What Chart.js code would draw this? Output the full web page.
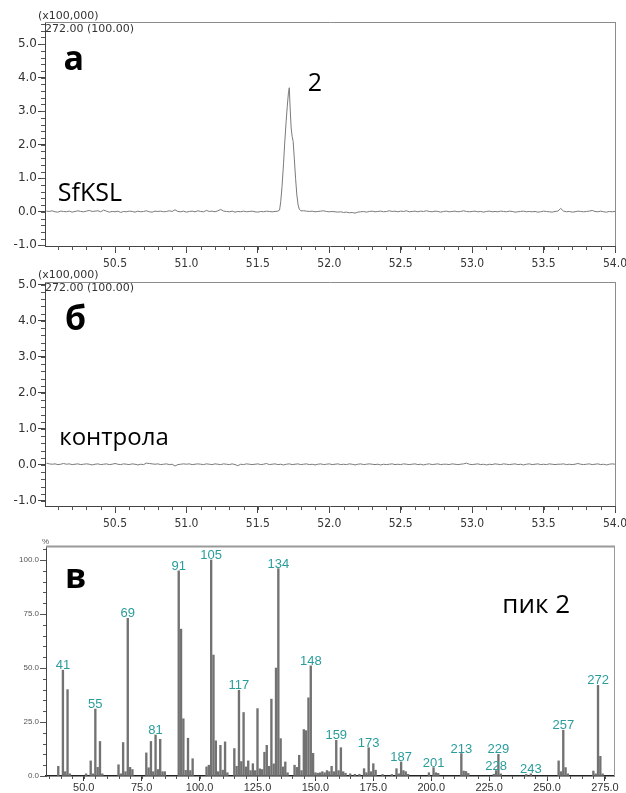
<!DOCTYPE html>
<html>
<head>
<meta charset="utf-8">
<script src="https://cdn.jsdelivr.net/npm/chart.js@4.4.1/dist/chart.umd.min.js"></script>
<style>
  body { margin: 0; background: #fff; width: 626px; height: 793px; position: relative; overflow: hidden; }
  canvas { position: absolute; left: 0; }
</style>
</head>
<body>
<canvas id="chartA" width="626" height="272" style="top:0"></canvas>
<canvas id="chartB" width="626" height="270" style="top:262px"></canvas>
<canvas id="chartC" width="626" height="258" style="top:535px"></canvas>
<script>
// ---- а / б : ion trace m/z 272 (x100,000) ----
const rtStart = 50.02;   // first sample, min
const rtStep = 0.02;

// SfKSL trace, baseline read every 0.02 min
const baselineA = [
  0.02, 0.01, 0.03, 0.00, -0.01, 0.02, 0.01, 0.00, 0.02, -0.01,
  0.01, 0.03, 0.01, 0.00, 0.02, 0.04, 0.01, 0.02, 0.03, 0.00,
  0.05, 0.02, -0.01, 0.01, 0.00, 0.02, -0.02, 0.01, 0.00, 0.02,
  0.01, -0.01, 0.02, 0.00, 0.01, 0.03, 0.00, -0.01, 0.02, 0.01,
  0.02, 0.00, 0.01, 0.03, 0.01, 0.06, 0.01, 0.00, 0.02, -0.01,
  0.01, 0.02, 0.00, 0.03, 0.01, 0.00, 0.04, 0.01, 0.02, 0.00,
  0.03, 0.07, 0.02, 0.01, 0.00, 0.02, -0.01, 0.01, 0.00, 0.02,
  0.00, 0.01, 0.02, 0.00, -0.01, 0.01, 0.00, 0.02, 0.01, 0.00,
  0.01, 0.02, 0.02, 0.02, 0.02, 0.02, 0.02, 0.02, 0.02, 0.03,
  0.03, 0.02, 0.01, 0.02, 0.00, 0.01, 0.02, 0.03, 0.01, 0.00,
  0.01, 0.00, -0.01, 0.00, -0.02, -0.01, -0.03, -0.02, -0.04, -0.01,
  0.00, 0.01, -0.01, 0.01, 0.02, 0.00, 0.01, 0.02, 0.00, 0.01,
  0.03, 0.01, 0.02, 0.00, 0.02, 0.01, 0.03, 0.00, 0.01, 0.02,
  0.00, 0.02, 0.01, 0.03, 0.01, 0.00, 0.02, 0.01, -0.01, 0.01,
  0.02, 0.00, 0.01, 0.02, 0.00, 0.01, 0.03, 0.01, 0.00, 0.01,
  0.02, 0.00, 0.01, -0.01, 0.01, 0.02, 0.00, 0.01, 0.00, 0.02,
  0.01, 0.00, 0.02, 0.01, -0.01, 0.00, 0.01, 0.02, 0.00, 0.01,
  0.00, 0.01, -0.01, 0.00, 0.02, 0.01, 0.00, -0.01, 0.01, 0.02,
  0.10, 0.02, 0.00, 0.01, -0.01, 0.00, 0.02, 0.01, 0.00, 0.01,
  0.02, 0.04, 0.01, 0.00, 0.02, 0.00, -0.01, 0.01, 0.00, 0.01
];
// peak 2, read more densely
const peakTimesA = [51.62, 51.64, 51.652, 51.66, 51.669, 51.68, 51.688, 51.698, 51.706, 51.714, 51.72,
  51.726, 51.733, 51.74, 51.747, 51.755, 51.764, 51.773, 51.782, 51.79, 51.80];
const peakValuesA = [0.01, 0.02, 0.05, 0.30, 0.75, 1.45, 2.05, 2.70, 3.15, 3.55, 3.70,
  3.10, 2.50, 2.25, 2.10, 1.60, 1.00, 0.50, 0.20, 0.08, 0.03];

// control trace
const baselineB = [
  0.05, 0.03, 0.02, 0.03, 0.01, 0.02, 0.04, 0.02, 0.03, 0.01,
  0.02, 0.03, 0.01, 0.02, 0.03, 0.02, 0.00, 0.02, 0.03, 0.01,
  0.02, 0.03, 0.01, 0.02, 0.04, 0.02, 0.01, 0.03, 0.02, 0.01,
  0.03, 0.02, 0.00, 0.02, 0.01, 0.05, 0.04, 0.03, 0.02, 0.03,
  0.01, 0.02, 0.03, 0.01, 0.02, -0.03, 0.01, 0.02, 0.03, 0.02,
  0.03, 0.01, 0.02, 0.03, 0.02, 0.01, 0.03, 0.02, 0.01, 0.03,
  0.02, 0.01, 0.03, 0.02, 0.01, 0.03, 0.01, -0.02, 0.02, 0.01,
  0.03, 0.02, 0.01, 0.02, 0.03, 0.01, 0.02, 0.04, 0.01, 0.02,
  0.03, 0.01, 0.02, 0.00, 0.02, 0.03, 0.01, 0.02, 0.03, 0.01,
  0.02, 0.03, 0.01, 0.02, 0.00, 0.02, 0.03, 0.01, 0.02, 0.03,
  0.01, 0.02, 0.03, 0.01, 0.02, 0.01, 0.03, 0.02, 0.00, 0.02,
  0.03, 0.01, 0.02, 0.03, 0.02, 0.01, 0.02, 0.00, 0.02, 0.01,
  0.02, 0.03, 0.01, 0.02, 0.01, 0.03, 0.02, 0.01, 0.02, 0.03,
  0.01, 0.02, 0.00, 0.02, 0.03, 0.01, 0.02, 0.03, 0.01, 0.02,
  0.02, 0.01, 0.03, 0.02, 0.01, 0.02, 0.03, 0.05, 0.02, 0.01,
  0.02, 0.03, 0.01, 0.02, 0.00, 0.02, 0.01, 0.03, 0.02, 0.01,
  0.03, 0.02, 0.01, 0.02, 0.03, 0.01, 0.02, 0.00, 0.02, 0.03,
  0.01, 0.02, 0.03, 0.01, 0.02, 0.01, 0.03, 0.02, 0.01, 0.02,
  0.02, 0.03, 0.01, 0.02, 0.01, 0.02, 0.04, 0.02, 0.01, 0.02,
  0.03, 0.01, 0.02, 0.03, 0.01, 0.02, 0.00, 0.02, 0.03, 0.02
];

// ---- в : mass spectrum of peak 2 ----
const masses = [39, 41, 42, 43, 44, 51, 53, 54, 55, 56, 57, 58, 65, 66, 67, 68, 69, 70, 71,
  77, 78, 79, 80, 81, 82, 83, 84, 85, 91, 92, 93, 94, 95, 96, 97, 103, 104, 105, 106, 107,
  108, 109, 110, 111, 112, 115, 116, 117, 118, 119, 120, 121, 122, 123, 124, 125, 126, 127,
  128, 129, 130, 131, 132, 133, 134, 135, 136, 137, 138, 141, 142, 143, 144, 145, 146, 147,
  148, 149, 150, 151, 152, 153, 154, 155, 156, 157, 158, 159, 160, 161, 162, 163, 165, 167,
  169, 171, 172, 173, 174, 175, 176, 179, 183, 185, 186, 187, 188, 189, 190, 199, 201, 202,
  203, 213, 214, 215, 216, 227, 228, 229, 230, 241, 243, 255, 256, 257, 258, 259, 270, 271,
  272, 273, 274];
const intensity = [4.5, 49, 2, 40, 1, 1, 7, 1, 31, 4, 16, 1, 5.2, 1, 15.5, 2, 73, 4, 3,
  10.7, 3.8, 16, 2, 19, 3, 17, 2, 2, 95, 68, 26.5, 2.6, 17.5, 2.5, 8, 4.2, 5, 100, 56, 16.3,
  2, 14.2, 2.7, 15.8, 1.5, 12.7, 4.5, 39.7, 6.7, 29.4, 4.2, 7, 2.5, 5.7, 2.5, 31.2, 3.3, 3,
  11, 14.2, 4.5, 35.6, 5.6, 50, 96, 17.3, 4.2, 6.5, 1.5, 5, 4, 9.6, 2.5, 21.5, 21, 36.2,
  51, 10.5, 1.5, 1.3, 1.5, 2, 1.5, 2.5, 2, 4.5, 2, 16.5, 2.5, 13.1, 2, 1.3, 1, 0.8,
  0.8, 3.4, 1.5, 13.1, 2, 5.7, 2.7, 0.7, 0.7, 3.4, 1, 6.5, 2.5, 2, 0.8, 1.5, 3.9, 1.5,
  1.2, 10.4, 2.3, 2.1, 1.2, 0.8, 2.5, 10, 1, 0.7, 1, 7, 2, 21.2, 3.9, 1, 2.3, 1,
  42, 9.1, 1];
const labelledMasses = [41, 55, 69, 81, 91, 105, 117, 134, 148, 159, 173, 187, 201, 213, 228, 229, 243, 257, 272];

function buildTrace(baseline, peakT, peakV) {
  const pts = [];
  baseline.forEach((v, i) => {
    const t = +(rtStart + i * rtStep).toFixed(3);
    if (peakT.length && t >= peakT[0] && t <= peakT[peakT.length - 1]) return;
    pts.push({ x: t, y: v });
  });
  peakT.forEach((t, i) => pts.push({ x: t, y: peakV[i] }));
  return pts.sort((a, b) => a.x - b.x);
}

// outline of the plot box (top and right edges)
function framePlugin(color, topWidth, rightWidth) {
  return {
    id: 'frame',
    afterDraw(chart) {
      const { ctx, chartArea: a } = chart;
      ctx.save();
      ctx.strokeStyle = color;
      ctx.lineWidth = topWidth;
      ctx.beginPath();
      ctx.moveTo(a.left, a.top + 0.5);
      ctx.lineTo(a.right + 1, a.top + 0.5);
      ctx.stroke();
      ctx.lineWidth = rightWidth;
      ctx.beginPath();
      ctx.moveTo(a.right + 0.5, a.top);
      ctx.lineTo(a.right + 0.5, a.bottom);
      ctx.stroke();
      ctx.restore();
    }
  };
}

// small ticks between the labelled ones
function minorTicksPlugin(xStep, yStep, len, color) {
  return {
    id: 'minorTicks',
    afterDraw(chart) {
      const { ctx, chartArea: a, scales: { x, y } } = chart;
      ctx.save();
      ctx.strokeStyle = color;
      ctx.lineWidth = 1;
      ctx.beginPath();
      for (let i = Math.ceil(x.min / xStep - 1e-6); i * xStep <= x.max + 1e-6; i++) {
        const px = Math.round(x.getPixelForValue(i * xStep)) + 0.5;
        ctx.moveTo(px, a.bottom);
        ctx.lineTo(px, a.bottom + len);
      }
      for (let i = Math.ceil(y.min / yStep - 1e-6); i * yStep <= y.max + 1e-6; i++) {
        const py = Math.round(y.getPixelForValue(i * yStep)) + 0.5;
        ctx.moveTo(a.left, py);
        ctx.lineTo(a.left - len, py);
      }
      ctx.stroke();
      ctx.restore();
    }
  };
}

// free text: "at" in data units, "px" relative to the plot box corner
function textPlugin(items) {
  return {
    id: 'texts',
    afterDraw(chart) {
      const { ctx, chartArea: a, scales: { x, y } } = chart;
      ctx.save();
      items.forEach(it => {
        ctx.font = it.font;
        ctx.fillStyle = it.color || '#000';
        ctx.textAlign = 'left';
        ctx.textBaseline = 'alphabetic';
        const px = it.at ? x.getPixelForValue(it.at[0]) : a.left + it.px[0];
        const py = it.at ? y.getPixelForValue(it.at[1]) : a.top + it.px[1];
        ctx.fillText(it.text, px, py);
      });
      ctx.restore();
    }
  };
}

function peakLabelPlugin() {
  return {
    id: 'peakLabels',
    afterDatasetsDraw(chart) {
      const { ctx, scales: { x, y } } = chart;
      ctx.save();
      ctx.font = '13px "Liberation Sans", Arial, sans-serif';
      ctx.fillStyle = '#2a9c9c';
      ctx.textAlign = 'center';
      ctx.textBaseline = 'alphabetic';
      labelledMasses.forEach(m => {
        const v = intensity[masses.indexOf(m)];
        ctx.fillText(String(m), x.getPixelForValue(m), y.getPixelForValue(v) - 1);
      });
      ctx.restore();
    }
  };
}

const xTickFont = { family: '"DejaVu Sans Condensed", "DejaVu Sans"', size: 12 };
const yTickFont = { family: 'DejaVu Sans', size: 12 };
const headerFont = '11px "DejaVu Sans", sans-serif';

function chromChart(id, points, yMin, yMax, padTop, texts) {
  return new Chart(document.getElementById(id), {
    type: 'line',
    data: {
      datasets: [{
        data: points,
        borderColor: '#7a7a7a',
        borderWidth: 1,
        pointRadius: 0,
        tension: 0
      }]
    },
    options: {
      responsive: false,
      animation: false,
      layout: { padding: { top: padTop, right: 11, left: 0, bottom: 0 } },
      plugins: { legend: { display: false }, tooltip: { enabled: false } },
      scales: {
        x: {
          type: 'linear', min: 50.01, max: 54.0,
          afterFit: s => { s.height = 26; s.paddingLeft = 0; s.paddingRight = 0; },
          ticks: {
            stepSize: 0.5, includeBounds: false, autoSkip: false, maxRotation: 0,
            padding: 4, font: xTickFont, color: '#333',
            callback: v => v.toFixed(1)
          },
          grid: { drawOnChartArea: false, tickLength: 7, color: '#444' },
          border: { color: '#444' }
        },
        y: {
          min: yMin, max: yMax,
          afterFit: s => { s.width = 45; s.paddingTop = 0; s.paddingBottom = 0; },
          ticks: {
            stepSize: 1, includeBounds: false, padding: 1, font: yTickFont, color: '#333',
            callback: v => v.toFixed(1)
          },
          grid: { drawOnChartArea: false, tickLength: 7, color: '#444' },
          border: { color: '#444' }
        }
      }
    },
    plugins: [framePlugin('#8c8c8c', 1, 1), minorTicksPlugin(0.1, 0.2, 4, '#555'), textPlugin(texts)]
  });
}

chromChart('chartA', buildTrace(baselineA, peakTimesA, peakValuesA), -1.02, 5.66, 22, [
  { text: '(x100,000)', px: [-7, -3], font: headerFont, color: '#333' },
  { text: '272.00 (100.00)', px: [0, 10], font: headerFont, color: '#333' },
  { text: 'а', at: [50.14, 4.22], font: 'bold 34px "Open Sans", sans-serif' },
  { text: '2', at: [51.85, 3.59], font: '25px "Open Sans", sans-serif' },
  { text: 'SfKSL', at: [50.10, 0.33], font: '25px "Open Sans", sans-serif' }
]);

chromChart('chartB', buildTrace(baselineB, [], []), -1.14, 5.08, 20, [
  { text: '(x100,000)', px: [-7, -4], font: headerFont, color: '#333' },
  { text: '272.00 (100.00)', px: [0, 9], font: headerFont, color: '#333' },
  { text: 'б', at: [50.15, 3.75], font: 'bold 34px "Open Sans", sans-serif' },
  { text: 'контрола', at: [50.11, 0.56], font: '24px "Open Sans", sans-serif' }
]);

new Chart(document.getElementById('chartC'), {
  type: 'bar',
  data: {
    datasets: [{
      data: masses.map((m, i) => ({ x: m, y: intensity[i] })),
      backgroundColor: '#727272',
      barThickness: 1.7
    }]
  },
  options: {
    responsive: false,
    animation: false,
    layout: { padding: { top: 11, right: 12, left: 0, bottom: 0 } },
    plugins: { legend: { display: false }, tooltip: { enabled: false } },
    scales: {
      x: {
        type: 'linear', min: 33.7, max: 278.9, offset: false,
        afterFit: s => { s.height = 17; s.paddingLeft = 0; s.paddingRight = 0; },
        ticks: {
          stepSize: 25, includeBounds: false, autoSkip: false, maxRotation: 0, padding: 0,
          font: { family: 'Liberation Sans', size: 11 }, color: '#333',
          callback: v => v.toFixed(1)
        },
        grid: { drawOnChartArea: false, offset: false, tickLength: 5, color: '#333' },
        border: { color: '#222', width: 1.5 }
      },
      y: {
        min: 0, max: 106.5,
        afterFit: s => { s.width = 46; s.paddingTop = 0; s.paddingBottom = 0; },
        ticks: {
          stepSize: 25, includeBounds: false, padding: 1,
          font: { family: 'Liberation Sans', size: 8 }, color: '#555',
          callback: v => v.toFixed(1)
        },
        grid: { drawOnChartArea: false, tickLength: 6, color: '#555' },
        border: { color: '#444' }
      }
    }
  },
  plugins: [framePlugin('#9a9a9a', 2, 1), minorTicksPlugin(5, 5, 3, '#555'), peakLabelPlugin(), textPlugin([
    { text: '%', px: [-4, -2], font: '8px "Liberation Sans", sans-serif', color: '#555' },
    { text: 'в', at: [41.9, 87], font: 'bold 34px "Open Sans", sans-serif' },
    { text: 'пик 2', at: [230.7, 75.4], font: '26px "Open Sans", sans-serif' }
  ])]
});
</script>
</body>
</html>
